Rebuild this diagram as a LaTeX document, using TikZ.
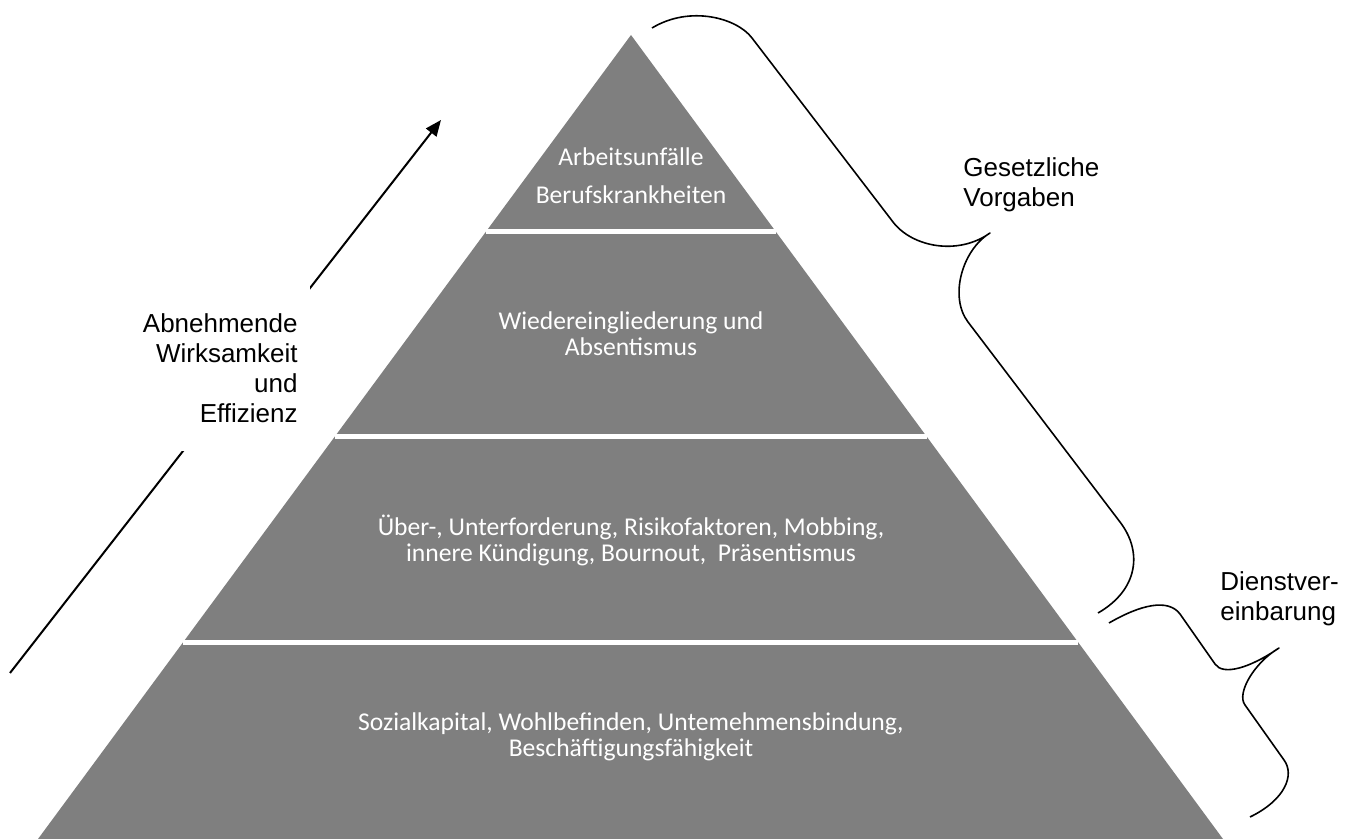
\documentclass[tikz,border=0pt]{standalone}
\usepackage{fontspec}
\setmainfont{Liberation Sans}
\newfontfamily\bandfont{Carlito}
\usetikzlibrary{arrows.meta, calc}
\definecolor{pyramid}{RGB}{127,127,127}

\begin{document}
\begin{tikzpicture}[x=0.5pt, y=-0.5pt, band/.style={font=\bandfont\fontsize{12.8}{13}\selectfont, text=white, align=center}, label/.style={font=\fontsize{13}{15}\selectfont, inner sep=0pt}, brace/.style={line width=0.8pt, line join=round}, arrow/.style={-{Triangle[length=8pt, width=6.5pt]}, line width=1pt}]
\useasboundingbox (0,0) rectangle (1356,839);
\coordinate (apex) at (631,35);\coordinate (bl) at (38,839);\coordinate (br) at (1223,839);
\fill[pyramid] (apex) -- (bl) -- (br) -- cycle;
\foreach \f in {0.245, 0.5, 0.755} \draw[white, line width=2.5pt] ($(apex)!\f!(bl)$) -- ($(apex)!\f!(br)$);
\node[band] (injury) at (631,176) {Arbeitsunfälle\\[6pt]Berufskrankheiten};
\node[band] (return) at (631,334) {Wiedereingliederung und\\Absentismus};
\node[band] (strain) at (631,540) {Über-, Unterforderung, Risikofaktoren, Mobbing,\\innere Kündigung, Bournout,~ Präsentismus};
\node[band] (capital) at (631,737) {Sozialkapital, Wohlbefinden, Untemehmensbindung,\\Beschäftigungsfähigkeit};
% arrow behind the white text box
\coordinate (arrowfoot) at (10,673);\coordinate (arrowtip) at (441,120);
\draw[arrow] (arrowfoot) -- (arrowtip);
\node[label, fill=white, align=right, inner xsep=6pt, inner ysep=14pt, anchor=east] (effect) at (310,368) {Abnehmende\\Wirksamkeit\\und\\Effizienz};
% braces
\draw[brace] (652,28) .. controls (690,5) and (737,18) .. (752,38) -- (893,222) .. controls (912,247) and (958,256) .. (990,233) .. controls (962,250) and (949,297) .. (968,322) -- (1120,522) .. controls (1143,552) and (1138,590) .. (1098,613);
\draw[brace] (1109,623) .. controls (1140,605) and (1168,598) .. (1180,614) -- (1215,664) .. controls (1223,676) and (1250,668) .. (1279,648) .. controls (1255,662) and (1236,693) .. (1245,705) -- (1284,760) .. controls (1295,775) and (1285,800) .. (1250,817);
\node[label, align=left, anchor=west] (law) at (963,185) {Gesetzliche\\Vorgaben};
\node[label, align=left, anchor=west] (agreement) at (1220,599) {Dienstver-\\einbarung};
\end{tikzpicture}
\end{document}
